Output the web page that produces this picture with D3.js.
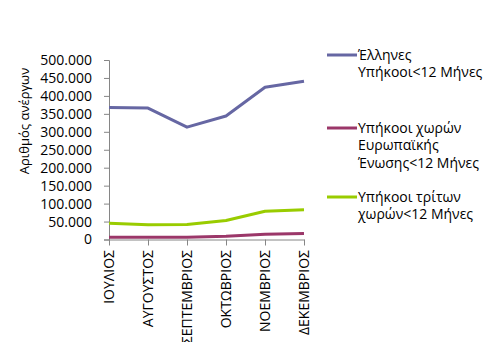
<!DOCTYPE html>
<html><head><meta charset="utf-8">
<script src="https://cdn.jsdelivr.net/npm/d3@7"></script>
<style>body{margin:0;background:#fff}svg{display:block}text{font-family:"Open Sans","Noto Sans",sans-serif;fill:#000}</style>
</head><body><svg id="c" width="491" height="342"></svg>
<script>
const categories = ["ΙΟΥΛΙΟΣ","ΑΥΓΟΥΣΤΟΣ","ΣΕΠΤΕΜΒΡΙΟΣ","ΟΚΤΩΒΡΙΟΣ","ΝΟΕΜΒΡΙΟΣ","ΔΕΚΕΜΒΡΙΟΣ"];
const greek = [368000, 366000, 313000, 344000, 424000, 441000];
const eu = [6000, 6000, 6000, 9000, 14500, 17000];
const third = [45000, 41000, 42000, 53000, 78500, 83000];
const seriesNames = [["Έλληνες","Υπήκοοι<12 Μήνες"],["Υπήκοοι χωρών","Ευρωπαϊκής","Ένωσης<12 Μήνες"],["Υπήκοοι τρίτων","χωρών<12 Μήνες"]];
const colors = ["#6667A3","#9B3769","#99CC00"];
const yTicks = [0,50000,100000,150000,200000,250000,300000,350000,400000,450000,500000];
const yTitle = "Αριθμός ανέργων";

const svg = d3.select("#c");
const x = d3.scalePoint().domain(categories).range([109, 304]);
const y = d3.scaleLinear().domain([0, 500000]).range([239.5, 60]);
const fmt = v => v === 0 ? "0" : d3.format(",")(v).replace(/,/g, ".");

const yAx = svg.append("g").attr("transform","translate(109,0)")
  .call(d3.axisLeft(y).tickValues(yTicks).tickFormat(fmt).tickSize(5).tickPadding(12));
yAx.selectAll("text").style("font-size","14px");
const xAx = svg.append("g").attr("transform","translate(0,239.5)")
  .call(d3.axisBottom(x).tickSize(6).tickSizeOuter(0));
xAx.selectAll("text").attr("transform","rotate(-90)").attr("text-anchor","end")
  .attr("x",-10.5).attr("y",0).attr("dy","0.35em").style("font-size","14px");
svg.selectAll(".domain, .tick line").attr("stroke","#868686");

svg.append("text").attr("transform","translate(29,121) rotate(-90)")
  .attr("text-anchor","middle").style("font-size","13px").text(yTitle);

const line = d3.line().x((d,i)=>x(categories[i])).y(d=>y(d));
[greek, eu, third].forEach((s,i)=>{
  svg.append("path").attr("d", line(s)).attr("fill","none")
    .attr("stroke", colors[i]).attr("stroke-width",3).attr("stroke-linejoin","round");
});

const legY = [55, 128, 197];
seriesNames.forEach((names,i)=>{
  svg.append("line").attr("x1",327).attr("x2",357).attr("y1",legY[i]).attr("y2",legY[i])
    .attr("stroke",colors[i]).attr("stroke-width",3);
  names.forEach((n,j)=>{
    svg.append("text").attr("x",358).attr("y",legY[i]+j*17.5).attr("dy","0.35em")
      .style("font-size","14px").text(n);
  });
});
</script></body></html>
